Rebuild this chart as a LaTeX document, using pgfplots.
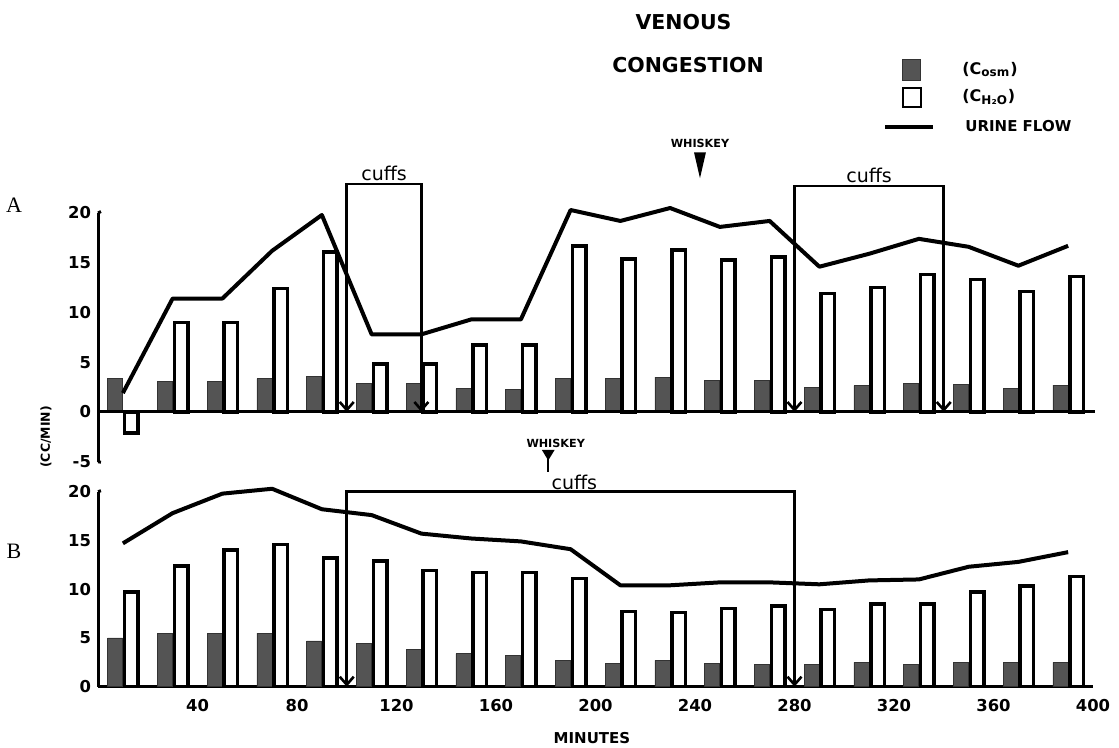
\documentclass[border=0pt]{standalone}
\usepackage{fontspec}
\setmainfont{DejaVu Sans}
\newfontfamily\serifA{Liberation Serif}
\usepackage{pgfplots}
\usepackage{pgfplotstable}
\pgfplotsset{compat=1.18}
\usetikzlibrary{arrows.meta}

\pgfplotstableread{
t   dA    wA    uA    dB    wB    uB
10  3.4   -2.1  1.9   5.0   9.7   14.7
30  3.1   9.0   11.4  5.5   12.4  17.8
50  3.1   9.0   11.4  5.5   14.0  19.8
70  3.35  12.4  16.2  5.5   14.6  20.3
90  3.6   16.1  19.8  4.7   13.2  18.2
110 2.9   4.8   7.8   4.4   12.9  17.6
130 2.9   4.8   7.8   3.8   11.9  15.7
150 2.35  6.7   9.3   3.4   11.7  15.2
170 2.25  6.7   9.3   3.25  11.7  14.9
190 3.4   16.7  20.3  2.7   11.1  14.1
210 3.35  15.4  19.2  2.4   7.7   10.4
230 3.5   16.3  20.5  2.7   7.6   10.4
250 3.2   15.3  18.6  2.4   8.0   10.7
270 3.2   15.6  19.2  2.3   8.3   10.7
290 2.5   11.9  14.6  2.3   7.9   10.5
310 2.65  12.5  15.9  2.5   8.5   10.9
330 2.9   13.8  17.4  2.3   8.5   11.0
350 2.8   13.3  16.6  2.5   9.7   12.3
370 2.4   12.1  14.7  2.5   10.3  12.8
390 2.7   13.6  16.7  2.5   11.3  13.8
}\data

\definecolor{stip}{gray}{0.33}

\tikzset{
  cuff/.style={line width=1.3pt, line join=miter},
  barb/.style={{Straight Barb[length=4pt,width=7pt]}-{Straight Barb[length=4pt,width=7pt]}},
}
\pgfplotsset{
  panel/.style={
    scale only axis, width=497.5pt, xmin=0, xmax=400, clip=false,
    axis y line=left,
    major tick length=0pt,
    tick label style={font=\fontsize{8.2}{9}\selectfont\bfseries},
  },
  darkbar/.style={ybar, bar width=6, bar shift=-3.1, fill=stip, draw=black!80, line width=0.3pt},
  whitebar/.style={ybar, bar width=5.4, bar shift=3.4, fill=white, draw=black, line width=1.8pt},
  uline/.style={black, line width=2pt, line join=round, no markers},
}

\begin{document}
\begin{tikzpicture}
\useasboundingbox (0,0) rectangle (559.5pt,374pt);

% ---------- Panel A ----------
\begin{axis}[panel, at={(49pt,143.15pt)}, anchor=south west,
  height=124.35pt, ymin=-5, ymax=20, axis x line=none,
  axis line style={-, line width=1.5pt},
  ytick={-5,0,5,10,15,20}, yticklabels={-5,0,5,10,15,20}]
  \addplot[darkbar] table[x=t,y=dA]{\data};
  \addplot[whitebar] table[x=t,y=wA]{\data};
  \draw[line width=1.5pt] (axis cs:0,0) -- (axis cs:401,0);
  \addplot[uline] table[x=t,y=uA]{\data};
  \draw[line width=1.5pt] (axis cs:0,20) -- (axis cs:1.2,20.15);
  \draw[line width=1.5pt] (axis cs:0,-5) -- (axis cs:1.2,-5.05);
  % cuffs boxes
  \draw[cuff,barb] (axis cs:100,0) -- (axis cs:100,22.9) -- (axis cs:130,22.9) -- (axis cs:130,0);
  \node[font=\fontsize{9.5}{10}\selectfont, anchor=base] at (axis cs:115,23.25) {cuffs};
  \draw[cuff,barb] (axis cs:280,0) -- (axis cs:280,22.7) -- (axis cs:340,22.7) -- (axis cs:340,0);
  \node[font=\fontsize{9.5}{10}\selectfont, anchor=base] at (axis cs:310,23.05) {cuffs};
  % whiskey
  \node[font=\fontsize{5.6}{6}\selectfont\bfseries] at (axis cs:242,27.0) {WHISKEY};
  \fill (axis cs:239.6,26.1) -- (axis cs:244.4,26.1) -- (axis cs:242,23.5) -- cycle;
\end{axis}

% ---------- Panel B ----------
\begin{axis}[panel, at={(49pt,30.65pt)}, anchor=south west,
  height=97.5pt, ymin=0, ymax=20, axis x line=bottom,
  axis line style={-, line width=1.5pt},
  x axis line style={-}, y axis line style={-},
  ytick={0,5,10,15,20}, yticklabels={0,5,10,15,20},
  xtick={40,80,...,400}, xticklabels={40,80,120,160,200,240,280,320,360,400},
  xticklabel style={yshift=-3pt}]
  \addplot[darkbar] table[x=t,y=dB]{\data};
  \addplot[whitebar] table[x=t,y=wB]{\data};
  \addplot[uline] table[x=t,y=uB]{\data};
  \draw[line width=1.5pt] (axis cs:0,20) -- (axis cs:1.2,20.1);
  \draw[cuff,barb] (axis cs:100,0) -- (axis cs:100,20) -- (axis cs:280,20) -- (axis cs:280,0);
  \node[font=\fontsize{9.5}{10}\selectfont] at (axis cs:191.5,21.0) {cuffs};
  \node[font=\fontsize{5.6}{6}\selectfont\bfseries] at (axis cs:184,25.0) {WHISKEY};
  \fill (axis cs:178.4,24.3) -- (axis cs:183.6,24.3) -- (axis cs:181,23.2) -- cycle;
  \draw[line width=1.2pt] (axis cs:181,23.8) -- (axis cs:181,22.0);
\end{axis}

% ---------- Texts in image pixel coordinates ----------
\begin{scope}[x=0.5pt, y=-0.5pt, yshift=374pt]
  \node[font=\fontsize{10.25}{11}\selectfont\bfseries] at (683.5,22.5) {VENOUS};
  \node[font=\fontsize{10.25}{11}\selectfont\bfseries] at (688,65) {CONGESTION};
  \fill[stip, draw=black!80, line width=0.3pt] (902,59) rectangle (920,80);
  \draw[line width=1.4pt, fill=white] (903,88) rectangle (921,107);
  \draw[line width=1.6pt] (885,127) -- (933,127);
  \node[font=\fontsize{8}{9}\selectfont\bfseries, anchor=west, inner sep=0] at (962,70) {(C\textsubscript{osm})};
  \node[font=\fontsize{8}{9}\selectfont\bfseries, anchor=west, inner sep=0] at (962,97) {(C\textsubscript{H₂O})};
  \node[font=\fontsize{7.5}{9}\selectfont\bfseries, anchor=west, inner sep=0] at (965,126) {URINE FLOW};
  \node[font=\fontsize{11}{12}\selectfont\serifA] at (14,205) {A};
  \node[font=\fontsize{11}{12}\selectfont\serifA] at (14,551) {B};
  \node[font=\fontsize{6.2}{7}\selectfont\bfseries, rotate=90] at (46,437) {(CC/MIN)};
  \node[font=\fontsize{7.5}{8}\selectfont\bfseries] at (592,738) {MINUTES};
\end{scope}
\end{tikzpicture}
\end{document}
